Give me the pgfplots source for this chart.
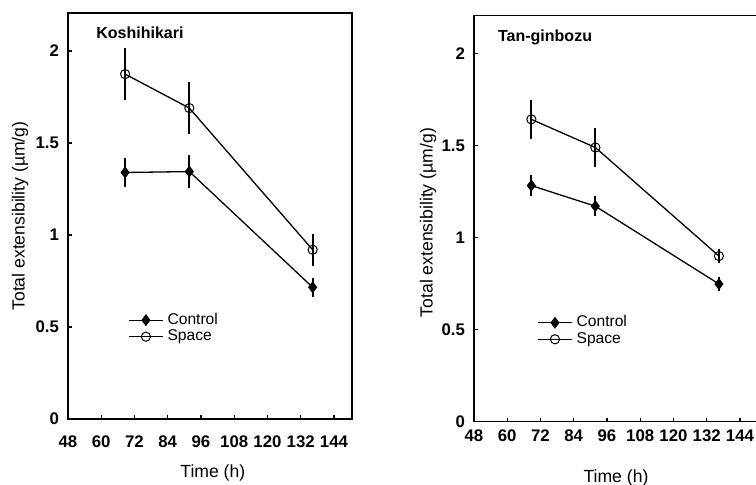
\documentclass[border=0pt]{standalone}
\usepackage{fontspec}
\setmainfont{Liberation Sans}
\usepackage{pgfplots}
\pgfplotsset{compat=1.18}

% shared look of both panels
\pgfplotsset{
  panel/.style={
    scale only axis,
    width=142pt, height=203pt,
    xmin=48, xmax=150.5, ymin=0, ymax=2.207,
    xtick={48,60,...,144}, ytick={0,0.5,1,1.5,2},
    yticklabels={0,0.5,1,1.5,2},
    tick align=inside, xtick pos=bottom, ytick pos=left,
    major tick length=2pt,
    axis line style={line width=0.75pt},
    every tick/.style={line width=0.6pt, black},
    tick label style={font=\fontsize{8.4}{10}\selectfont\bfseries},
    yticklabel style={xshift=-1pt},
    label style={font=\fontsize{8.8}{10}\selectfont},
    /pgf/number format/assume math mode=true,
    legend style={draw=none, fill=none, font=\fontsize{7.8}{9}\selectfont,
      row sep=-2.8pt, inner sep=0pt, legend cell align=left},
    legend image post style={line width=0.6pt},
    error bars/y dir=both, error bars/y explicit,
    error bars/error mark=none,
    error bars/error bar style={line width=0.9pt, black},
  },
  ctrl/.style={black, line width=0.65pt, mark=diamond*, mark size=2.7pt,
    mark options={fill=black, line width=0.4pt}},
  spc/.style={black, line width=0.65pt, mark=o, mark size=2.3pt,
    mark options={fill=white, line width=0.5pt}},
}

\begin{document}
\begin{tikzpicture}
\useasboundingbox (0,0) rectangle (378pt,242pt);

% left panel: Koshihikari
\begin{axis}[panel,
  at={(34pt,32.5pt)}, anchor=south west,
  xticklabel style={yshift=-5pt},
  xlabel={Time (h)}, ylabel={Total extensibility (\textmu m/g)},
  xlabel style={at={(axis description cs:0.51,-0.133)}, anchor=center},
  ylabel style={at={(axis description cs:-0.169,0.5)}, anchor=center, rotate=0},
  legend style={at={(axis cs:69.6,0.6)}, anchor=north west},
  ]
  \node[anchor=west, font=\fontsize{8}{9}\selectfont\bfseries]
    at (axis description cs:0.075,0.951) {Koshihikari};
  \addplot[ctrl] coordinates {
    (68.6,1.340) +- (0,0.080)
    (91.8,1.345) +- (0,0.090)
    (136.3,0.716) +- (0,0.053)
  };
  \addlegendentry{Control}
  \addplot[spc] coordinates {
    (68.6,1.875) +- (0,0.140)
    (91.8,1.690) +- (0,0.140)
    (136.3,0.920) +- (0,0.088)
  };
  \addlegendentry{Space}
\end{axis}

% right panel: Tan-ginbozu
\begin{axis}[panel,
  at={(237pt,31.2pt)}, anchor=south west,
  xticklabel style={yshift=-0.5pt},
  xlabel={Time (h)}, ylabel={Total extensibility (\textmu m/g)},
  xlabel style={at={(axis description cs:0.5,-0.138)}, anchor=center},
  ylabel style={at={(axis description cs:-0.162,0.49)}, anchor=center, rotate=0},
  legend style={at={(axis cs:70.7,0.6)}, anchor=north west},
  ]
  \node[anchor=west, font=\fontsize{8}{9}\selectfont\bfseries]
    at (axis description cs:0.06,0.947) {Tan-ginbozu};
  \addplot[ctrl] coordinates {
    (68.7,1.283) +- (0,0.058)
    (91.8,1.171) +- (0,0.056)
    (136.4,0.748) +- (0,0.040)
  };
  \addlegendentry{Control}
  \addplot[spc] coordinates {
    (68.7,1.643) +- (0,0.105)
    (91.8,1.490) +- (0,0.108)
    (136.4,0.900) +- (0,0.038)
  };
  \addlegendentry{Space}
\end{axis}
\end{tikzpicture}
\end{document}
